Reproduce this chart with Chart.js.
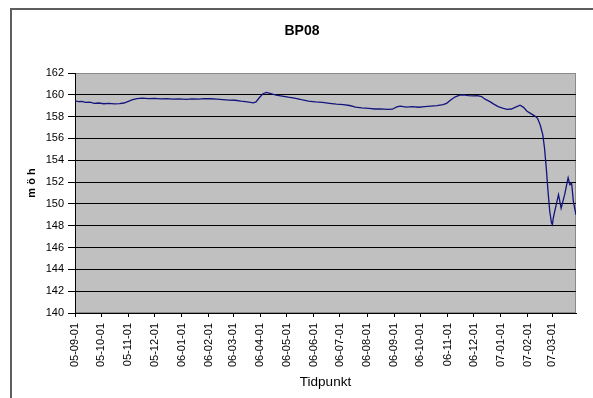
<!DOCTYPE html>
<html>
<head>
<meta charset="utf-8">
<title>BP08</title>
<script src="https://cdn.jsdelivr.net/npm/chart.js@4/dist/chart.umd.min.js"></script>
<style>
  html, body { margin: 0; padding: 0; background: #fff; overflow: hidden; }
  #frame {
    position: absolute; left: 10px; top: 8px; width: 620px; height: 420px;
    border-top: 2px solid #5e5e5e; border-left: 2px solid #5e5e5e;
  }
  #wrap { position: absolute; left: 0; top: 0; width: 593px; height: 398px; }
</style>
</head>
<body>
<div id="frame"></div>
<div id="wrap"><canvas id="c" width="593" height="398"></canvas></div>
<script>
// Groundwater level at BP08 (metres above sea level), sampled dates
const dates = [
  '2005-09-01','2005-09-05','2005-09-09','2005-09-13','2005-09-18','2005-09-23','2005-09-28',
  '2005-10-04','2005-10-10','2005-10-16','2005-10-22','2005-10-27','2005-11-01','2005-11-06',
  '2005-11-11','2005-11-17','2005-11-24','2005-12-01','2005-12-08','2005-12-15','2005-12-22',
  '2005-12-29','2006-01-06','2006-01-13','2006-01-20','2006-01-27','2006-02-03','2006-02-10',
  '2006-02-17','2006-02-24','2006-03-03','2006-03-10','2006-03-17','2006-03-24','2006-03-27',
  '2006-03-31','2006-04-04','2006-04-08','2006-04-13','2006-04-19','2006-04-26','2006-05-03',
  '2006-05-10','2006-05-18','2006-05-26','2006-06-03','2006-06-11','2006-06-19','2006-06-27',
  '2006-07-05','2006-07-12','2006-07-19','2006-07-26','2006-08-03','2006-08-10','2006-08-17',
  '2006-08-24','2006-08-30','2006-09-04','2006-09-08','2006-09-15','2006-09-22','2006-09-29',
  '2006-10-06','2006-10-13','2006-10-20','2006-10-27','2006-10-31','2006-11-05','2006-11-10',
  '2006-11-15','2006-11-20','2006-11-25','2006-11-30','2006-12-05','2006-12-10','2006-12-14',
  '2006-12-19','2006-12-24','2006-12-29','2007-01-03','2007-01-08','2007-01-13','2007-01-18',
  '2007-01-23','2007-01-27','2007-01-31','2007-02-04','2007-02-09','2007-02-12','2007-02-15',
  '2007-02-18','2007-02-20','2007-02-22','2007-02-24','2007-02-26','2007-02-28','2007-03-01',
  '2007-03-02','2007-03-05','2007-03-08','2007-03-11','2007-03-15','2007-03-19','2007-03-21',
  '2007-03-23','2007-03-25','2007-03-28'
];

const levels = [
  159.45,159.38,159.40,159.30,159.32,159.22,159.25,
  159.18,159.22,159.17,159.20,159.25,159.40,159.55,
  159.66,159.70,159.66,159.68,159.62,159.65,159.60,
  159.63,159.58,159.62,159.60,159.66,159.64,159.60,
  159.56,159.52,159.50,159.42,159.36,159.26,159.35,
  159.75,160.10,160.22,160.12,159.98,159.88,159.78,
  159.70,159.55,159.42,159.35,159.30,159.22,159.15,
  159.10,159.02,158.88,158.80,158.75,158.70,158.72,
  158.66,158.68,158.90,158.96,158.88,158.92,158.86,
  158.92,158.96,159.00,159.10,159.22,159.55,159.82,
  159.97,160.00,159.92,159.90,159.93,159.84,159.60,
  159.40,159.15,158.92,158.78,158.66,158.70,158.88,
  159.05,158.85,158.50,158.30,158.05,157.85,157.25,
  156.35,155.10,153.30,151.15,149.30,148.25,148.10,
  148.70,149.80,150.85,149.60,150.85,152.40,151.75,
  151.90,150.20,149.00
];

// Month labels on the time axis (yy-mm-dd)
const tickLabels = [
  '05-09-01','05-10-01','05-11-01','05-12-01','06-01-01','06-02-01','06-03-01',
  '06-04-01','06-05-01','06-06-01','06-07-01','06-08-01','06-09-01','06-10-01',
  '06-11-01','06-12-01','07-01-01','07-02-01','07-03-01'
];

const yTicks = [140,142,144,146,148,150,152,154,156,158,160,162];

const chartTitle = 'BP08';
const yTitle = 'm ö h';
const xTitle = 'Tidpunkt';

const DAY = 86400000;
const origin = Date.UTC(2005, 8, 1);
const toDay = s => (Date.parse(s + 'T00:00:00Z') - origin) / DAY;
const tickDays = tickLabels.map(l => toDay('20' + l));
const points = dates.map((d, i) => ({ x: toDay(d), y: levels[i] }));
const lastDay = toDay(dates[dates.length - 1]);

const FONT = "'Liberation Sans', Arial, sans-serif";

// Grey plot background with a thin grey frame
const plotBackground = {
  id: 'plotBackground',
  beforeDraw(chart) {
    const { ctx, chartArea: a } = chart;
    ctx.save();
    ctx.fillStyle = '#c0c0c0';
    ctx.fillRect(a.left, a.top, a.right - a.left, a.bottom - a.top);
    ctx.strokeStyle = '#8a8a8a';
    ctx.lineWidth = 1;
    ctx.strokeRect(a.left + 0.5, a.top + 0.5, a.right - a.left - 1, a.bottom - a.top - 1);
    ctx.restore();
  }
};

// Chart title and the vertical value-axis caption
const captions = {
  id: 'captions',
  afterDraw(chart) {
    const { ctx } = chart;
    ctx.save();
    ctx.fillStyle = '#000';
    ctx.textAlign = 'center';
    ctx.textBaseline = 'middle';
    ctx.font = 'bold 14px ' + FONT;
    ctx.fillText(chartTitle, 302, 31);
    ctx.translate(32, 183);
    ctx.rotate(-Math.PI / 2);
    ctx.font = 'bold 11px ' + FONT;
    ctx.fillText(yTitle, 0, 0);
    ctx.restore();
  }
};

new Chart(document.getElementById('c'), {
  type: 'line',
  data: {
    datasets: [{
      data: points,
      borderColor: '#14147e',
      borderWidth: 1.3,
      pointRadius: 0,
      tension: 0,
      fill: false
    }]
  },
  options: {
    responsive: false,
    animation: false,
    layout: { padding: { left: 0, right: 17, top: 73, bottom: 0 } },
    plugins: {
      legend: { display: false },
      tooltip: { enabled: false },
      title: { display: false }
    },
    scales: {
      x: {
        type: 'linear',
        min: 0,
        max: lastDay,
        afterBuildTicks: s => { s.ticks = tickDays.map(v => ({ value: v })); },
        afterFit: s => { s.height = 85; },
        ticks: {
          autoSkip: false,
          minRotation: 90,
          maxRotation: 90,
          padding: 6,
          color: '#000',
          font: { family: FONT, size: 11 },
          callback: v => {
            const i = tickDays.indexOf(v);
            return i >= 0 ? tickLabels[i] : '';
          }
        },
        grid: { drawOnChartArea: false, drawTicks: true, tickLength: 4, color: '#000', tickColor: '#000' },
        border: { color: '#000', width: 1 },
        title: {
          display: true,
          text: xTitle,
          color: '#000',
          font: { family: FONT, size: 13.5 },
          padding: { top: 0, bottom: 7.6 }
        }
      },
      y: {
        min: 140,
        max: 162,
        afterBuildTicks: s => { s.ticks = yTicks.map(v => ({ value: v })); },
        afterFit: s => { s.width = 75; },
        ticks: {
          autoSkip: false,
          padding: 4,
          color: '#000',
          font: { family: FONT, size: 11 }
        },
        grid: {
          color: c => (c.tick && c.tick.value === 162 ? '#8a8a8a' : '#000'),
          tickColor: '#000',
          tickLength: 7,
          drawTicks: true
        },
        border: { color: '#000', width: 1 }
      }
    }
  },
  plugins: [plotBackground, captions]
});
</script>
</body>
</html>
